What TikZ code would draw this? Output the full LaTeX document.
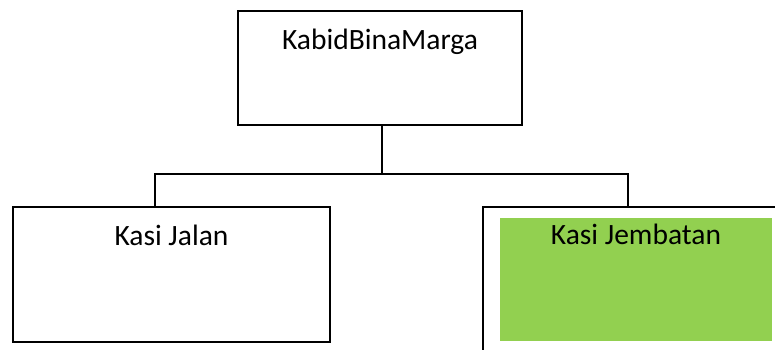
\documentclass[tikz,border=0pt]{standalone}
\usepackage{fontspec}
\setmainfont{Carlito}
\usetikzlibrary{positioning}
\definecolor{seksi_green}{HTML}{92D050}

\begin{document}
\begin{tikzpicture}[x=1pt,y=1pt]
\useasboundingbox (0,0) rectangle (775,349);
\clip (0,0) rectangle (775,349);
\begin{scope}[every node/.style={rectangle,inner sep=0pt,line width=1.2pt,font=\fontsize{29.5}{32}\selectfont}]
    \node[draw,minimum width=284,minimum height=114,
          label={[anchor=base,yshift=-39]north:KabidBinaMarga}] (kabid) at (380,281) {};
    \node[draw,minimum width=317,minimum height=135,
          label={[anchor=base,yshift=-39]north:Kasi Jalan}] (kasi_jalan) at (171.5,74.5) {};
    \node[fill=seksi_green,minimum width=272,minimum height=123,
          label={[anchor=base,yshift=-27]north:Kasi Jembatan}] (kasi_jembatan) at (636,69.5) {};
    \node[draw,minimum width=300,minimum height=150] (jembatan_frame) at (633,67) {};
\end{scope}

\coordinate (bus_mid) at (382,175);
\begin{scope}[line width=1.2pt]
    \draw (kabid.south -| bus_mid) -- (bus_mid);
    \draw ([xshift=-16.5]kasi_jalan.north) |- (bus_mid) -| ([xshift=-5]jembatan_frame.north);
\end{scope}
\end{tikzpicture}
\end{document}
